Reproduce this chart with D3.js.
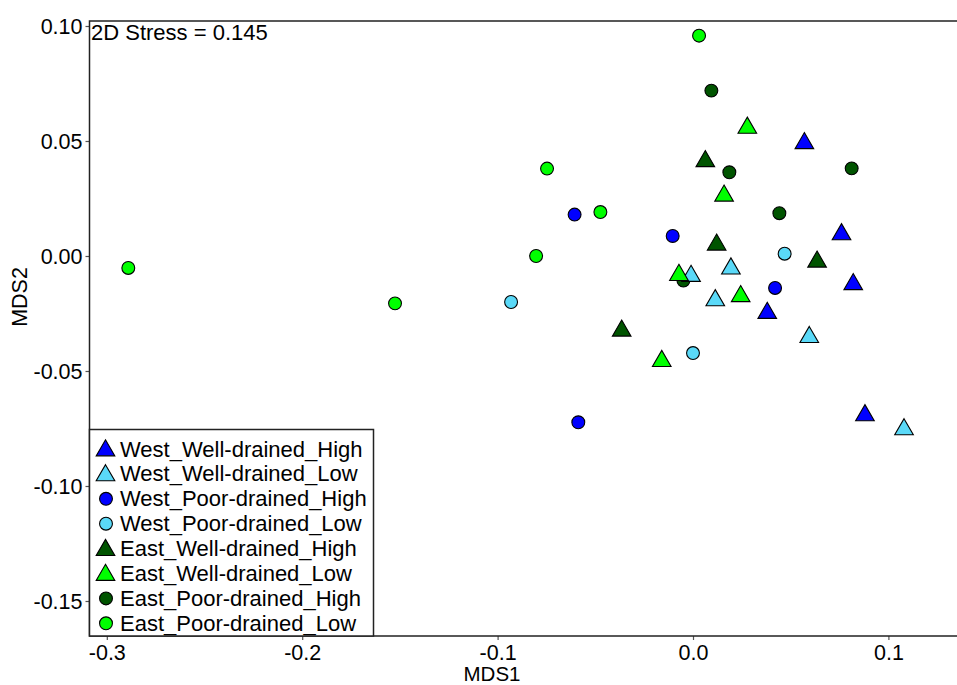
<!DOCTYPE html>
<html>
<head>
<meta charset="utf-8">
<script src="https://cdn.jsdelivr.net/npm/d3@7"></script>
<style>
  body { margin: 0; background: #fff; }
  svg { font-family: "Liberation Sans", Arial, sans-serif; }
</style>
</head>
<body>
<div id="chart"></div>
<script>
// group names, in legend order
let groups = [
  'West_Well-drained_High', 'West_Well-drained_Low',
  'West_Poor-drained_High', 'West_Poor-drained_Low',
  'East_Well-drained_High', 'East_Well-drained_Low',
  'East_Poor-drained_High', 'East_Poor-drained_Low'
];
let colors = ['#0000ff', '#5ad9f8', '#0000ff', '#5ad9f8', '#005400', '#00ff00', '#005400', '#00ff00'];
let shapes = ['triangle', 'triangle', 'circle', 'circle', 'triangle', 'triangle', 'circle', 'circle'];

// MDS scores, [MDS1, MDS2]
let westWellHigh = [[0.057, 0.049], [0.076, 0.0094], [0.082, -0.0123], [0.038, -0.0248], [0.088, -0.0693]];
let westWellLow = [[0.108, -0.0754], [0.0595, -0.0353], [0.0114, -0.0193], [0.0194, -0.0055], [-0.001, -0.0087]];
let westPoorHigh = [[-0.0606, 0.018], [-0.0104, 0.0087], [0.042, -0.0139], [-0.0587, -0.0723]];
let westPoorLow = [[-0.0931, -0.02], [0.0, -0.0422], [0.0469, 0.001]];
let eastWellHigh = [[0.0063, 0.0412], [0.0121, 0.0049], [0.0635, -0.0025], [-0.0365, -0.0325]];
let eastWellLow = [[0.0278, 0.0557], [0.0159, 0.0262], [-0.0072, -0.0083], [0.0244, -0.0175], [-0.016, -0.0457]];
let eastPoorHigh = [[0.0094, 0.0719], [0.0186, 0.0364], [0.0812, 0.0381], [0.0442, 0.0186], [-0.0049, -0.0107]];
let eastPoorLow = [[-0.289, -0.0052], [-0.1525, -0.0206], [-0.0747, 0.038], [-0.0474, 0.0191], [-0.0803, 0.0], [0.0031, 0.0958]];

let seriesPoints = [westWellHigh, westWellLow, westPoorHigh, westPoorLow,
                    eastWellHigh, eastWellLow, eastPoorHigh, eastPoorLow];
// circles were plotted before triangles
let drawOrder = [2, 3, 6, 7, 0, 1, 4, 5];

let xTicks = [-0.3, -0.2, -0.1, 0.0, 0.1];
let yTicks = [0.10, 0.05, 0.00, -0.05, -0.10, -0.15];
let stressLabel = '2D Stress = 0.145';

// drawing area
let W = 957, H = 685;
let plotLeft = 89.5, plotTop = 21, plotRight = 958, plotBottom = 636;

let svg = d3.select('#chart').append('svg')
  .attr('width', W)
  .attr('height', H);

let x = d3.scaleLinear().domain([-0.30886, 0.13562]).range([plotLeft, plotRight]);
let y = d3.scaleLinear().domain([-0.16522, 0.10217]).range([plotBottom, plotTop]);

let symTri = d3.symbol().type(d3.symbolTriangle).size(150);
let symCir = d3.symbol().type(d3.symbolCircle).size(130);

// axes
let yAxis = svg.append('g')
  .attr('transform', 'translate(' + plotLeft + ',0)')
  .call(d3.axisLeft(y).tickValues(yTicks).tickSize(4).tickSizeOuter(0)
    .tickFormat(function(d){ return d.toFixed(2); }));
let xAxis = svg.append('g')
  .attr('transform', 'translate(0,' + plotBottom + ')')
  .call(d3.axisBottom(x).tickValues(xTicks).tickSize(4).tickSizeOuter(0)
    .tickFormat(function(d){ return d.toFixed(1); }));

[xAxis, yAxis].forEach(function(a){
  a.select('.domain').remove();
  a.selectAll('line').attr('stroke', '#555').attr('stroke-width', 1.2);
  a.selectAll('text').attr('font-size', 21.5).attr('fill', '#000')
    .attr('font-family', '"Liberation Sans", Arial, sans-serif');
});
yAxis.selectAll('text').attr('x', -7).attr('dy', '0.36em');
xAxis.selectAll('text').attr('y', 9).attr('dy', '0.71em');

// plot box (right side falls outside the picture)
svg.append('rect')
  .attr('x', plotLeft).attr('y', plotTop)
  .attr('width', plotRight - plotLeft).attr('height', plotBottom - plotTop)
  .attr('fill', 'none').attr('stroke', '#222').attr('stroke-width', 1.5);

// axis titles
svg.append('text')
  .attr('x', 492).attr('y', 681)
  .attr('text-anchor', 'middle').attr('font-size', 20.5)
  .text('MDS1');
svg.append('text')
  .attr('transform', 'translate(27,297) rotate(-90)')
  .attr('text-anchor', 'middle').attr('font-size', 21.5)
  .text('MDS2');

svg.append('text')
  .attr('x', 91).attr('y', 40)
  .attr('font-size', 22)
  .text(stressLabel);

// points
let pts = svg.append('g');
drawOrder.forEach(function(gi){
  pts.selectAll('.p' + gi)
    .data(seriesPoints[gi])
    .enter().append('path')
    .attr('class', 'p' + gi)
    .attr('d', shapes[gi] === 'triangle' ? symTri : symCir)
    .attr('transform', function(d){ return 'translate(' + x(d[0]) + ',' + y(d[1]) + ')'; })
    .attr('fill', colors[gi])
    .attr('stroke', '#000')
    .attr('stroke-width', 1.1);
});

// legend
let legTop = 429.5, legRight = 373.5, rowH = 24.9, firstRow = 449;
svg.append('rect')
  .attr('x', plotLeft).attr('y', legTop)
  .attr('width', legRight - plotLeft).attr('height', plotBottom - legTop)
  .attr('fill', '#fff').attr('stroke', '#222').attr('stroke-width', 1.5);

let leg = svg.selectAll('.leg')
  .data(groups)
  .enter().append('g')
  .attr('class', 'leg')
  .attr('transform', function(d, i){ return 'translate(0,' + (firstRow + i * rowH) + ')'; });

leg.append('path')
  .attr('d', function(d, i){ return shapes[i] === 'triangle' ? symTri() : symCir(); })
  .attr('transform', function(d, i){ return 'translate(' + (shapes[i] === 'triangle' ? 105.5 : 106) + ',' + (shapes[i] === 'triangle' ? 1.5 : 0) + ')'; })
  .attr('fill', function(d, i){ return colors[i]; })
  .attr('stroke', '#000')
  .attr('stroke-width', 1.1);

leg.append('text')
  .attr('x', 120).attr('y', 7.5)
  .attr('font-size', 22)
  .text(function(d){ return d; });
</script>
</body>
</html>
